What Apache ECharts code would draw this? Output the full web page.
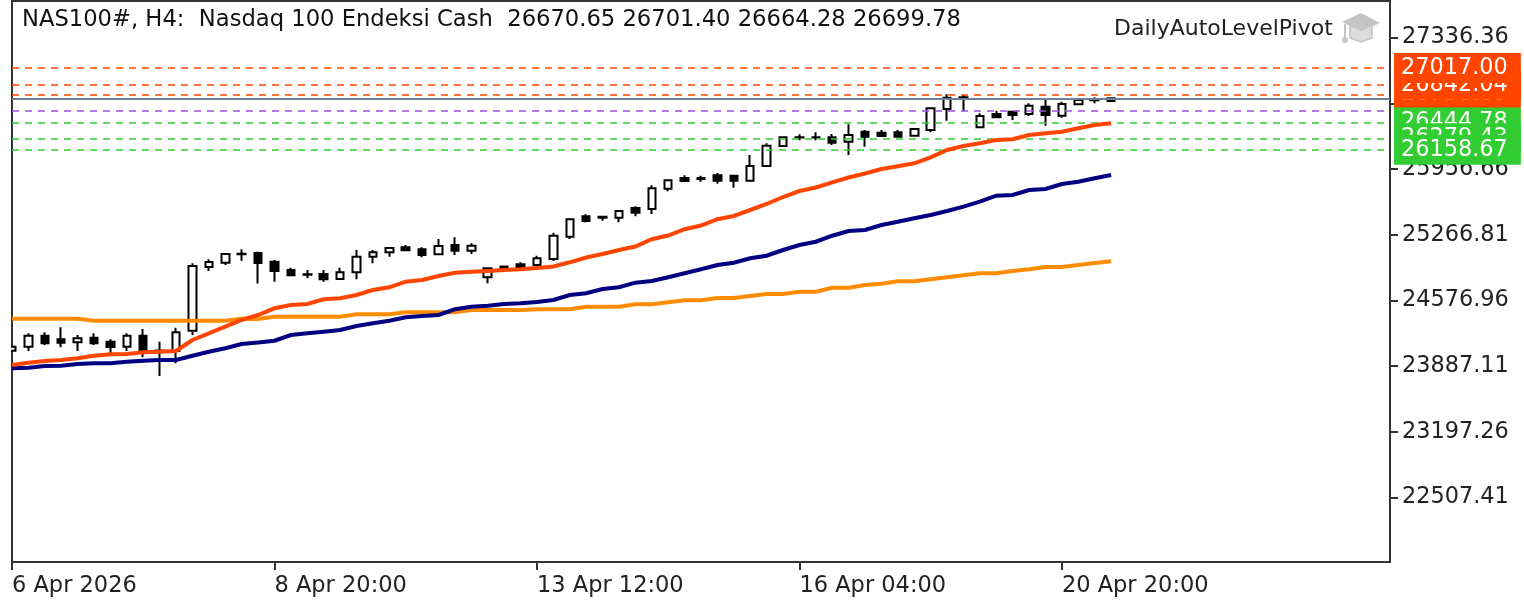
<!DOCTYPE html>
<html><head><meta charset="utf-8">
<style>html,body{margin:0;padding:0;background:#fff}#c{width:1524px;height:603px}</style>
<script src="https://cdn.jsdelivr.net/npm/echarts@6/dist/echarts.min.js"></script>
</head><body><div id="c"></div>
<script>
const titleText = 'NAS100#, H4:  Nasdaq 100 Endeksi Cash  26670.65 26701.40 26664.28 26699.78';
const watermark = 'DailyAutoLevelPivot';
const xTickLabels = ['6 Apr 2026','8 Apr 20:00','13 Apr 12:00','16 Apr 04:00','20 Apr 20:00'];
const yTickValues = [27336.36,26646.51,25956.66,25266.81,24576.96,23887.11,23197.26,22507.41];
const yMin = 21830.9, yMax = 27721.4;
// [open, close, low, high]
const candles = [
[24050,24092,24050,24092],[24092,24207,24046,24232],[24207,24127,24109,24243],[24169,24134,24085,24295],
[24138,24180,24046,24214],[24186,24127,24109,24232],[24144,24088,24022,24169],[24092,24207,24046,24232],
[24207,24050,23980,24277],[24041,24052,23784,24144],[24046,24243,23917,24291],[24260,24939,24214,24967],
[24928,24981,24886,25009],[24974,25065,24949,25072],[25062,25067,24995,25114],[25075,24970,24755,25089],
[24984,24886,24774,25002],[24897,24841,24834,24921],[24848,24851,24810,24897],[24855,24799,24774,24897],
[24802,24873,24792,24921],[24873,25037,24799,25107],[25037,25083,24967,25107],[25083,25128,25037,25135],
[25135,25104,25096,25159],[25114,25054,25030,25135],[25062,25149,25054,25222],[25159,25100,25054,25240],
[25100,25152,25065,25177],[24820,24915,24757,24921],[24934,24904,24897,24939],[24957,24925,24921,24978],
[24949,25020,24931,25047],[25012,25257,24991,25289],[25247,25429,25222,25440],[25461,25411,25398,25482],
[25457,25446,25415,25457],[25446,25516,25398,25527],[25548,25499,25461,25566],[25537,25755,25485,25786],
[25751,25839,25723,25845],[25863,25831,25831,25891],[25852,25863,25824,25887],[25891,25835,25803,25915],
[25887,25835,25761,25887],[25835,25989,25835,26104],[25989,26202,25982,26227],[26199,26290,26199,26290],
[26288,26291,26259,26322],[26288,26291,26259,26343],[26290,26234,26209,26325],[26244,26314,26104,26427],
[26349,26297,26192,26367],[26339,26304,26297,26367],[26343,26297,26290,26367],[26307,26377,26307,26377],
[26367,26595,26343,26595],[26587,26706,26465,26742],[26708,26712,26570,26734],[26395,26514,26385,26542],
[26535,26500,26493,26570],[26559,26524,26472,26559],[26535,26622,26514,26647],[26612,26524,26412,26689],
[26517,26640,26496,26664],[26637,26682,26629,26692],[26680,26683,26647,26710],[26670.65,26699.78,26664.28,26701.40]
];
const maFast = [23899.4,23923.5,23941.4,23951.9,23969.8,23997,24011.8,24014.9,24032.8,24039,24046.4,24161.9,24232.3,24301.6,24371.9,24424.4,24494.8,24529.4,24539.9,24589.3,24599.8,24634.4,24686.9,24715.3,24774,24791.9,24833.9,24868.6,24879,24886.4,24896.9,24904.2,24917.9,24933.7,24977.8,25028.2,25064.9,25106.9,25143.7,25220.3,25259.2,25325.3,25364.2,25430.3,25463.9,25526.9,25589.9,25663.4,25726.4,25763.2,25817.8,25868.2,25910.2,25957.4,25985.8,26017.3,26080.2,26156.9,26198.9,26227.3,26261.9,26269.3,26314.4,26332.3,26349,26384.8,26419.4,26437.3];
const maMid = [23864.8,23871,23888.9,23892,23909.9,23917.3,23917.3,23934,23944.6,23951.9,23951.9,23997,24039,24074.8,24119.9,24135.7,24154.5,24214.4,24232.3,24249,24266.9,24308.9,24337.3,24364.5,24400.3,24413.9,24424.4,24484.2,24511.5,24522,24539.9,24547.3,24560.9,24581.9,24634.4,24652.3,24697.4,24715.3,24763.6,24781.4,24820.2,24862.2,24904.2,24949.4,24973.6,25019.8,25047,25106.9,25159.4,25194,25257,25306.4,25316.9,25369.4,25404,25439.8,25474.4,25516.4,25561.6,25614,25677,25684.4,25736.9,25747.4,25799.9,25824,25859.8,25894.4];
const maSlow = [24385.5,24385.5,24385.5,24385.5,24385.5,24364.5,24364.5,24364.5,24364.5,24364.5,24364.5,24364.5,24364.5,24364.5,24385,24382,24406.5,24406.5,24406.5,24406.5,24406.5,24431.7,24431.7,24431.7,24452.7,24452.7,24452.7,24452.7,24476.9,24476.9,24476.9,24476.9,24484.2,24484.2,24484.2,24511.5,24511.5,24511.5,24536.7,24536.7,24557.7,24578.7,24578.7,24602.9,24602.9,24623.9,24644.9,24644.9,24669,24669,24711,24711,24739.4,24753,24778.2,24778.2,24799.2,24820.2,24841.2,24862.2,24862.2,24886.4,24904.2,24928.4,24928.4,24949.4,24970.4,24988.2];
const bidPrice = 26699.78;
const resistanceLevels = [26738.89,26842.04,27017.00];
const pivotLevel = 26570;
const supportLevels = [26444.78,26279.43,26158.67];

const FONT = '"DejaVu Sans"';
const RED = '#ff4500', GREEN = '#32cd32', PURPLE = '#a24fe0';
const categories = Array.from({length:85},(_,i)=> (i%16===0 && xTickLabels[i/16]) || '');
const showTick = (i)=> categories[i] !== '';

function levelLine(v,color,labelled){
  return {
    yAxis:v,
    lineStyle:{color:color,type:[7,6],width:1.6},
    label: labelled ? {
      show:true, position:'end', distance:4, formatter:v.toFixed(2),
      color:'#fff', fontFamily:FONT, fontSize:22.4, lineHeight:24, align:'left',
      backgroundColor:color, padding:[3,13,3,7]
    } : {show:false}
  };
}
const levelData = [
  {yAxis:bidPrice,lineStyle:{color:'#708090',type:'solid',width:2},label:{show:false}},
  levelLine(pivotLevel,PURPLE,false),
  ...resistanceLevels.map(v=>levelLine(v,RED,true)),
  ...supportLevels.map(v=>levelLine(v,GREEN,true))
];
function maSeries(name,data,color,z){
  return {name,type:'line',data,symbol:'none',z,lineStyle:{color,width:4,join:'miter'},itemStyle:{color},silent:true};
}
const chart = echarts.init(document.getElementById('c'),null,{renderer:'canvas'});
chart.setOption({
  animation:false,
  backgroundColor:'#fff',
  title:{text:titleText,left:17,top:4,textStyle:{fontFamily:FONT,fontSize:22.65,fontWeight:'normal',color:'#111'}},
  grid:{left:12,right:134,top:1,bottom:41,show:true,borderColor:'#333',borderWidth:2,backgroundColor:'#fff'},
  xAxis:{type:'category',boundaryGap:false,data:categories,
    axisLine:{show:true,lineStyle:{color:'#333',width:2}},
    axisTick:{show:true,length:8,interval:showTick,lineStyle:{color:'#333',width:2}},
    axisLabel:{interval:showTick,align:'left',margin:13,color:'#222',fontFamily:FONT,fontSize:22.5,showMinLabel:true,hideOverlap:false},
    splitLine:{show:false}},
  yAxis:{type:'value',position:'right',min:yMin,max:yMax,
    axisLine:{show:true,onZero:false,lineStyle:{color:'#333',width:2}},
    axisTick:{show:true,length:8,customValues:yTickValues,lineStyle:{color:'#333',width:2}},
    axisLabel:{customValues:yTickValues,margin:12,color:'#222',fontFamily:FONT,fontSize:22.4,padding:[2,0,0,0],formatter:v=>v.toFixed(2)},
    splitLine:{show:false}},
  series:[
    {name:'levels',type:'line',data:[],symbol:'none',z:1,silent:true,
     markLine:{silent:true,symbol:'none',animation:false,precision:2,data:levelData}},
    {name:'NAS100#',type:'candlestick',data:candles,barWidth:8,z:2,silent:true,
     itemStyle:{color:'#fff',color0:'#000',borderColor:'#000',borderColor0:'#000',borderWidth:2}},
    maSeries('MA slow',maSlow,'#ff8c00',3),
    maSeries('MA mid',maMid,'#000080',4),
    maSeries('MA fast',maFast,RED,5)
  ],
  graphic:[
    {type:'rect',silent:true,z:15,shape:{x:0,y:0,width:11,height:562},style:{fill:'#fff'}},
    {type:'text',left:1114,top:18,silent:true,z:20,style:{text:watermark,fill:'#222',font:'22px '+FONT}},
    {type:'group',silent:true,z:20,children:[
      {type:'polygon',shape:{points:[[1350,24],[1372,24],[1372,38],[1361,42],[1350,38]]},style:{fill:'#dcdcdc',stroke:'#c4c4c4',lineWidth:1.5}},
      {type:'polygon',shape:{points:[[1361,13],[1380,23],[1361,31],[1342,22]]},style:{fill:'#c4c4c4'}},
      {type:'line',shape:{x1:1345,y1:24,x2:1345,y2:38},style:{stroke:'#c4c4c4',lineWidth:2}},
      {type:'circle',shape:{cx:1345,cy:40,r:3},style:{fill:'#c4c4c4'}}
    ]}
  ]
});
</script></body></html>
